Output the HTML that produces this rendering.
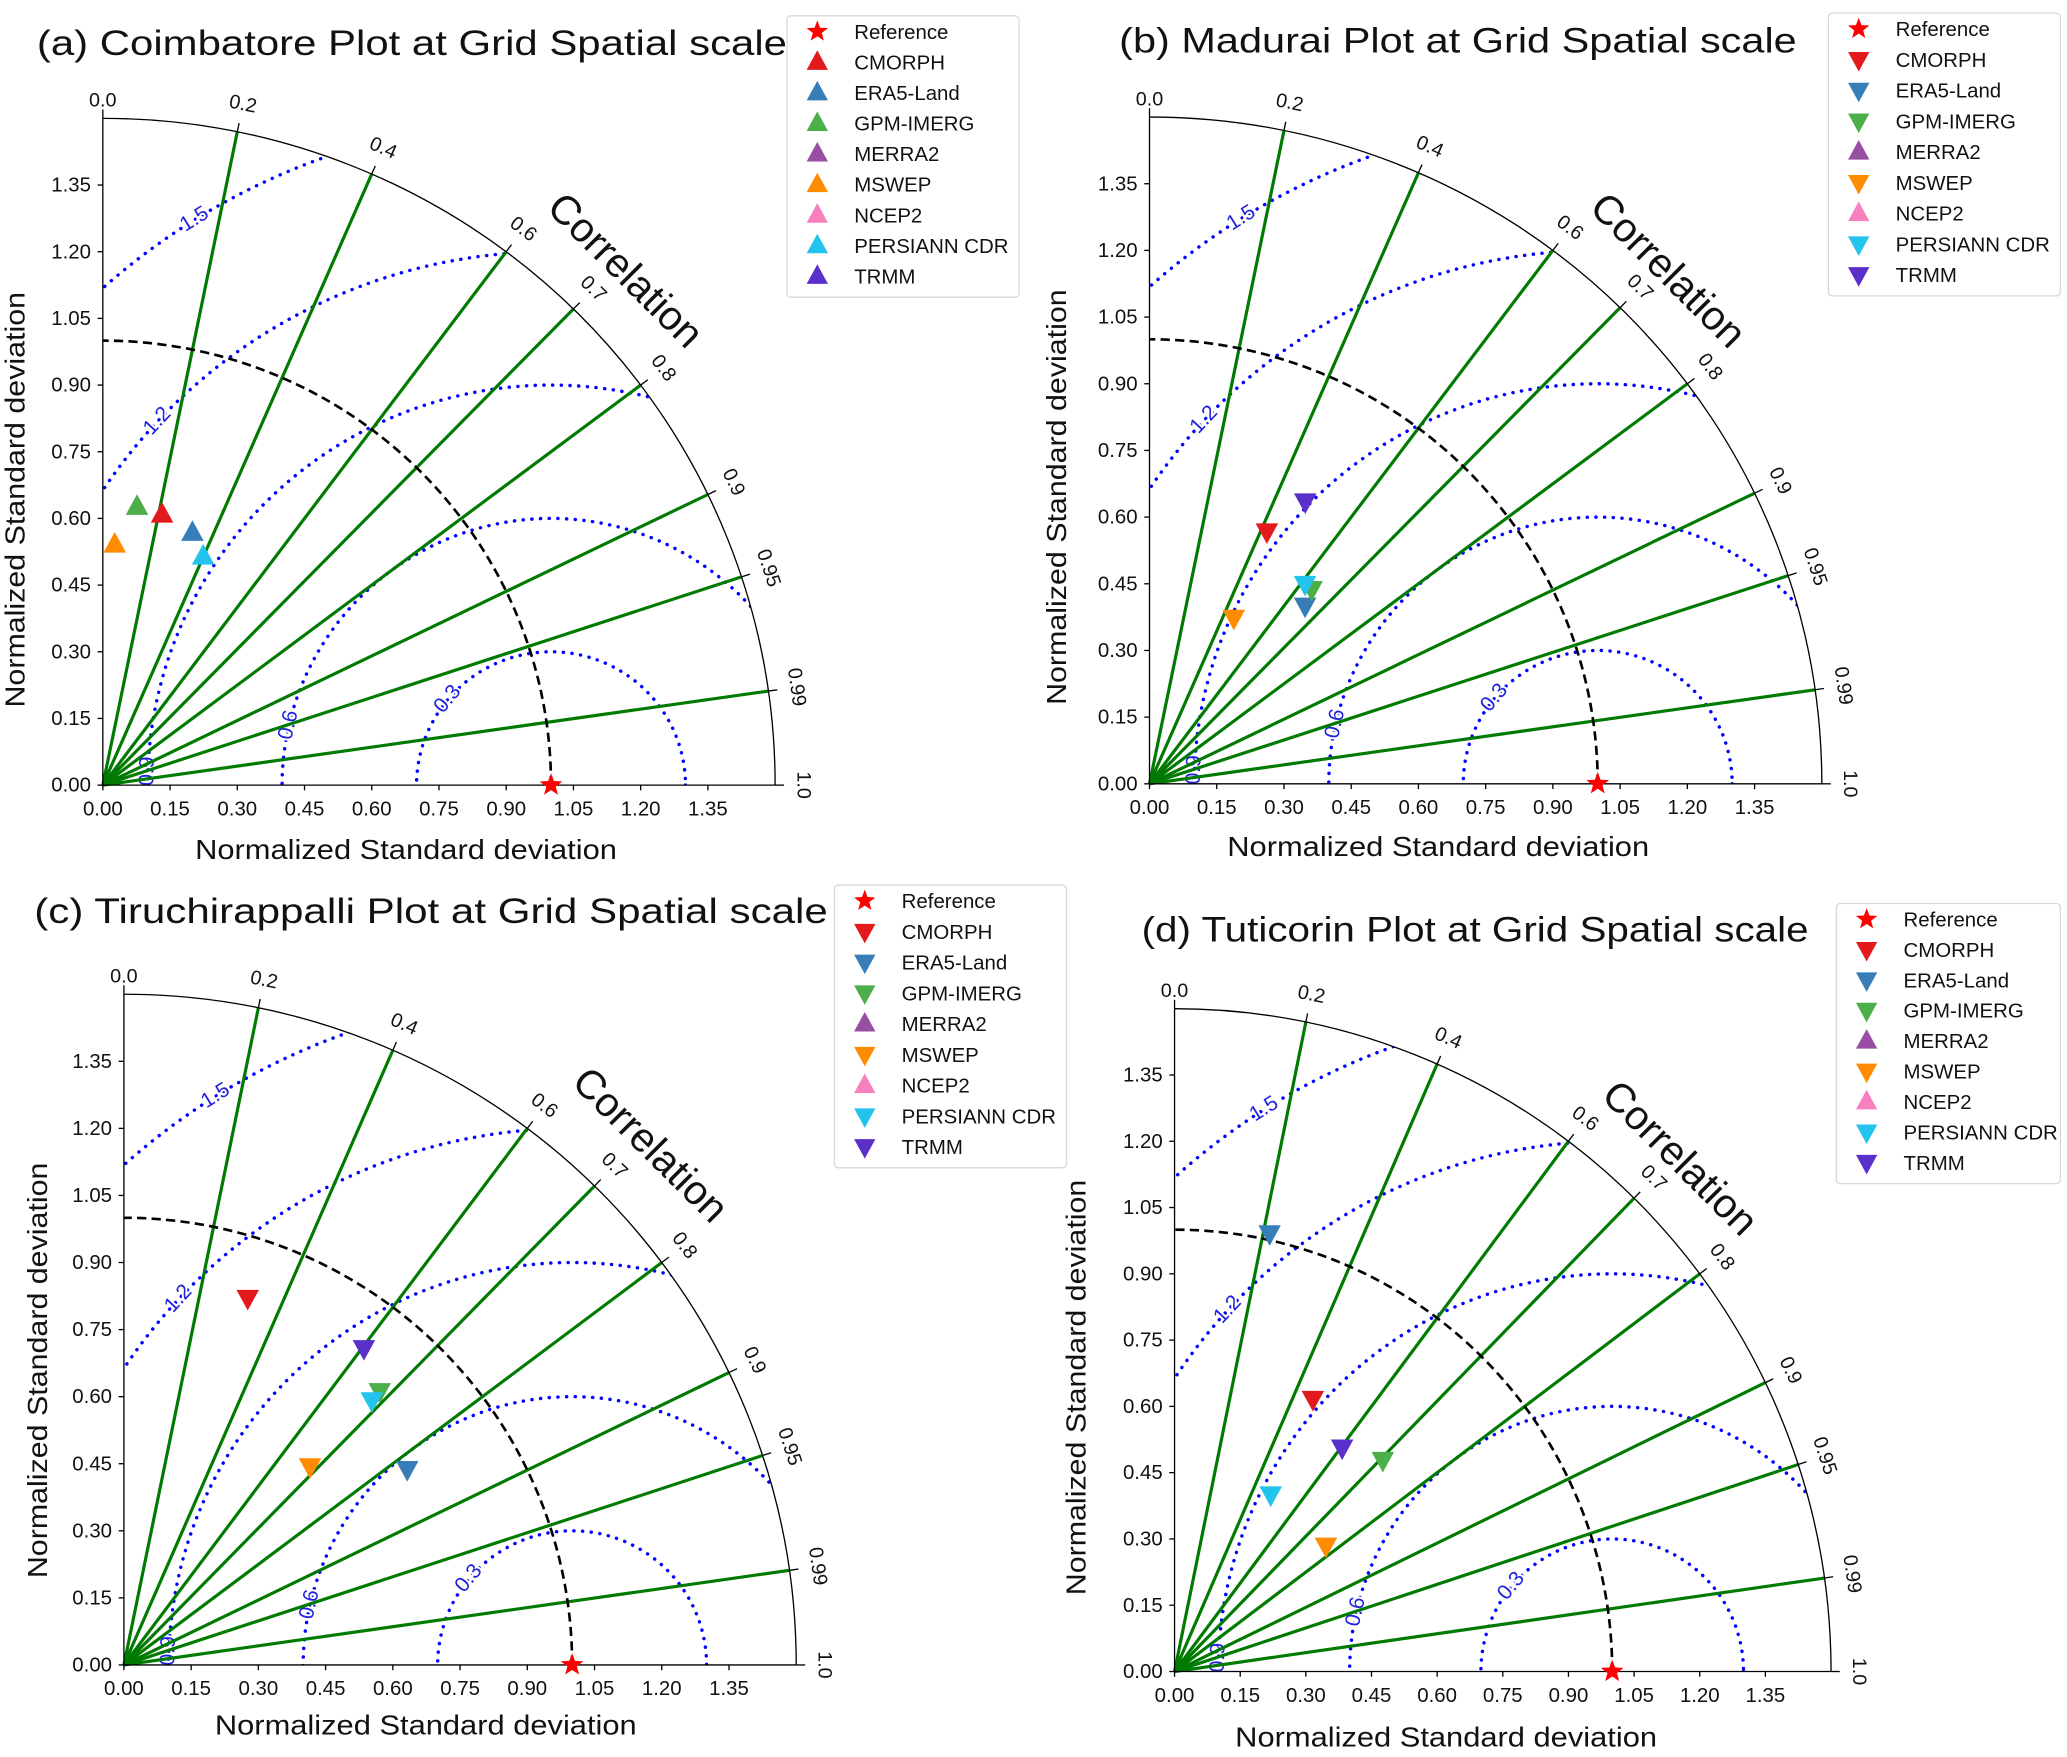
<!DOCTYPE html>
<html><head><meta charset="utf-8">
<style>
html,body{margin:0;padding:0;background:#fff;overflow:hidden;}
svg{display:block;font-family:"Liberation Sans","DejaVu Sans",sans-serif;}
</style></head>
<body>
<svg id="fig" width="2067" height="1757" viewBox="0 0 1568 1336" preserveAspectRatio="none" xmlns="http://www.w3.org/2000/svg"></svg>
<script>
const products=['CMORPH','ERA5-Land','GPM-IMERG','MERRA2','MSWEP','NCEP2','PERSIANN CDR','TRMM'];
const colors=['#e31a1c','#377eb8','#4daf4a','#984ea3','#ff8c00','#f781bf','#22c3ec','#5b2fc9'];
const corrTicks=[0.2,0.4,0.6,0.7,0.8,0.9,0.95,0.99];
const axisTicks=[0,0.15,0.3,0.45,0.6,0.75,0.9,1.05,1.2,1.35];
const rmsLevels=[0.3,0.6,0.9,1.2,1.5];
const rmsLabelAngles=[140,167,178,137,122];
// panel (a)
const stdA=[0.623,0.602,0.631,null,0.542,null,0.561,null];
const corrA=[0.212,0.332,0.121,null,0.049,null,0.399,null];
// panel (b)
const stdB=[0.625,0.53,0.568,null,0.418,null,0.568,0.724];
const corrB=[0.419,0.655,0.637,null,0.45,null,0.611,0.48];
// panel (c)
const stdC=[0.866,0.769,0.837,null,0.608,null,0.81,0.888];
const corrC=[0.319,0.822,0.682,null,0.683,null,0.683,0.603];
// panel (d)
const stdD=[0.693,1.015,0.675,null,0.448,null,0.457,0.635];
const corrD=[0.456,0.214,0.705,null,0.772,null,0.481,0.603];

const NS='http://www.w3.org/2000/svg';
const svg=document.getElementById('fig');
function mk(tag,attrs,parent,txt){const e=document.createElementNS(NS,tag);for(const k in attrs)e.setAttribute(k,attrs[k]);if(txt!==undefined)e.textContent=txt;(parent||svg).appendChild(e);return e;}

function tri(g,x,y,up,col,s){
  const p=up?`${x},${y-s} ${x-s*0.9},${y+s*0.65} ${x+s*0.9},${y+s*0.65}`:`${x},${y+s} ${x-s*0.9},${y-s*0.65} ${x+s*0.9},${y-s*0.65}`;
  return mk('polygon',{points:p,fill:col},g);
}
function star(g,x,y,r,col){
  let p=[];for(let i=0;i<10;i++){const a=-Math.PI/2+i*Math.PI/5;const rr=i%2?r*0.42:r;p.push((x+rr*Math.cos(a)).toFixed(1)+','+(y+rr*Math.sin(a)).toFixed(1));}
  return mk('polygon',{points:p.join(' '),fill:col},g);
}

const panels=[
 {id:'a',ox:78,oy:597,sx:340,sy:338,title:'(a) Coimbatore Plot at Grid Spatial scale',tx:28,ty:42,tw:569,std:stdA,corr:corrA,up:true,lg:[597,12,176,214],cx:473,cy:207,ylx:13,yly:380,xlx:308,xly:653},
 {id:'b',ox:872,oy:596,sx:340,sy:338,title:'(b) Madurai Plot at Grid Spatial scale',tx:849,ty:40,tw:514,std:stdB,corr:corrB,up:false,lg:[1387,10,176,215],cx:1264,cy:207,ylx:803,yly:378,xlx:1091,xly:651},
 {id:'c',ox:94,oy:1266,sx:340,sy:340,title:'(c) Tiruchirappalli Plot at Grid Spatial scale',tx:26,ty:702,tw:602,std:stdC,corr:corrC,up:false,lg:[633,673,176,215],cx:492,cy:872,ylx:30,yly:1042,xlx:323,xly:1319},
 {id:'d',ox:891,oy:1271,sx:332,sy:336,title:'(d) Tuticorin Plot at Grid Spatial scale',tx:866,ty:716,tw:506,std:stdD,corr:corrD,up:false,lg:[1393,687,170,213],cx:1273,cy:882,ylx:818,yly:1055,xlx:1097,xly:1328}
];
const legendUp=[false,false,false,true,false,true,false,false];

panels.forEach(P=>{
  const g=mk('g',{});
  
  
  const X=(x)=>P.ox+x*P.sx, Y=(y)=>P.oy-y*P.sy;
  const R=1.5;
  const defs=mk('defs',{},g);
  const cp=mk('clipPath',{id:'clip'+P.id},defs);
  mk('path',{d:`M${X(0)},${Y(0)} L${X(R)},${Y(0)} A${R*P.sx},${R*P.sy} 0 0 0 ${X(0)},${Y(R)} Z`},cp);
  const t=mk('text',{x:P.tx,y:P.ty,'font-size':27,fill:'#111',textLength:P.tw,lengthAdjust:'spacingAndGlyphs'},g,P.title);
  
  
  const rg=mk('g',{'clip-path':`url(#clip${P.id})`},g);
  rmsLevels.forEach(r=>{
    const e=mk('ellipse',{cx:X(1),cy:Y(0),rx:r*P.sx,ry:r*P.sy,fill:'none',stroke:'#0000ff','stroke-width':2.6,'stroke-dasharray':'0.1 6.5','stroke-linecap':'round'},rg);
    
    
  });
  rmsLevels.forEach((r,i)=>{
    const a=rmsLabelAngles[i]*Math.PI/180;
    const x=X(1+r*Math.cos(a)), y=Y(r*Math.sin(a));
    const rot=-(rmsLabelAngles[i]-90);
    const l=mk('text',{x:x,y:y,'font-size':16,fill:'#2222dd','text-anchor':'middle','dominant-baseline':'middle',transform:`rotate(${rot} ${x} ${y})`,stroke:'#fff','stroke-width':3,'paint-order':'stroke'},g,r.toFixed(1));
    
    
  });
  corrTicks.forEach(c=>{
    const th=Math.acos(c);
    const ln=mk('line',{x1:X(0),y1:Y(0),x2:X(R*Math.cos(th)),y2:Y(R*Math.sin(th)),stroke:'#007a00','stroke-width':2.4},g);
    
    
  });
  const da=mk('path',{d:`M${X(1)},${Y(0)} A${P.sx},${P.sy} 0 0 0 ${X(0)},${Y(1)}`,fill:'none',stroke:'#000','stroke-width':2,'stroke-dasharray':'7 4'},g);
  
  
  mk('path',{d:`M${X(R)},${Y(0)} A${R*P.sx},${R*P.sy} 0 0 0 ${X(0)},${Y(R)}`,fill:'none',stroke:'#000','stroke-width':1},g);
  mk('line',{x1:X(0),y1:Y(0),x2:X(R),y2:Y(0),stroke:'#000','stroke-width':1},g);
  mk('line',{x1:X(0),y1:Y(0),x2:X(0),y2:Y(R),stroke:'#000','stroke-width':1},g);
  [0,...corrTicks,1].forEach(c=>{
    const th=Math.acos(c);
    mk('line',{x1:X(R*Math.cos(th)),y1:Y(R*Math.sin(th)),x2:X(1.52*Math.cos(th)),y2:Y(1.52*Math.sin(th)),stroke:'#000','stroke-width':1},g);
    const x=X(1.55*Math.cos(th)), y=Y(1.55*Math.sin(th))+ (c===0?8:0);
    const rot=90-th*180/Math.PI;
    const l=mk('text',{x:x,y:y,'font-size':15,fill:'#111','text-anchor':'middle',transform:`rotate(${rot} ${x} ${y})`},g,c===0?'0.0':c===1?'1.0':String(c));
    
    
  });
  const cl=mk('text',{x:P.cx,y:P.cy,'font-size':31,fill:'#111','text-anchor':'middle','dominant-baseline':'middle',transform:`rotate(45 ${P.cx} ${P.cy})`},g,'Correlation');
  
  
  axisTicks.forEach(v=>{
    mk('line',{x1:X(v),y1:Y(0),x2:X(v),y2:Y(0)+4,stroke:'#000'},g);
    mk('line',{x1:X(0),y1:Y(v),x2:X(0)-4,y2:Y(v),stroke:'#000'},g);
    const a=mk('text',{x:X(v),y:Y(0)+23,'font-size':15.5,fill:'#111','text-anchor':'middle'},g,v.toFixed(2));
    
    
    const b=mk('text',{x:X(0)-9,y:Y(v)+5,'font-size':15.5,fill:'#111','text-anchor':'end'},g,v.toFixed(2));
    
    
  });
  const xl=mk('text',{x:P.xlx,y:P.xly,'font-size':21,fill:'#111','text-anchor':'middle',textLength:320,lengthAdjust:'spacingAndGlyphs'},g,'Normalized Standard deviation');
  
  
  const yl=mk('text',{x:P.ylx,y:P.yly,'font-size':21,fill:'#111','text-anchor':'middle','dominant-baseline':'middle',textLength:316,lengthAdjust:'spacingAndGlyphs',transform:`rotate(-90 ${P.ylx} ${P.yly})`},g,'Normalized Standard deviation');
  
  
  P.std.forEach((s,i)=>{
    if(s===null)return;
    const c=P.corr[i];
    const x=X(s*c), y=Y(s*Math.sqrt(1-c*c));
    const m=tri(g,x,y,P.up,colors[i],9.5);
    
    
  });
  const rs=star(g,X(1),Y(0),9,'#ff0000');
  
  
  const [lx,ly,lw,lh]=P.lg;
  const lgG=mk('g',{},g);
  
  
  mk('rect',{x:lx,y:ly,width:lw,height:lh,rx:3,fill:'#fff',stroke:'#d8d8d8','stroke-width':1},lgG);
  const step=(lh-28)/8;
  const names=['Reference',...products];
  names.forEach((n,i)=>{
    const yy=ly+12+i*step;
    let m;
    if(i===0) m=star(lgG,lx+23,yy,8.5,'#ff0000');
    else m=tri(lgG,lx+23,yy,P.up?true:legendUp[i-1],colors[i-1],9);
    
    
    const tx=mk('text',{x:lx+51,y:yy+5.5,'font-size':15.5,fill:'#111'},lgG,n);
    
    
  });
});
</script>
</body></html>
